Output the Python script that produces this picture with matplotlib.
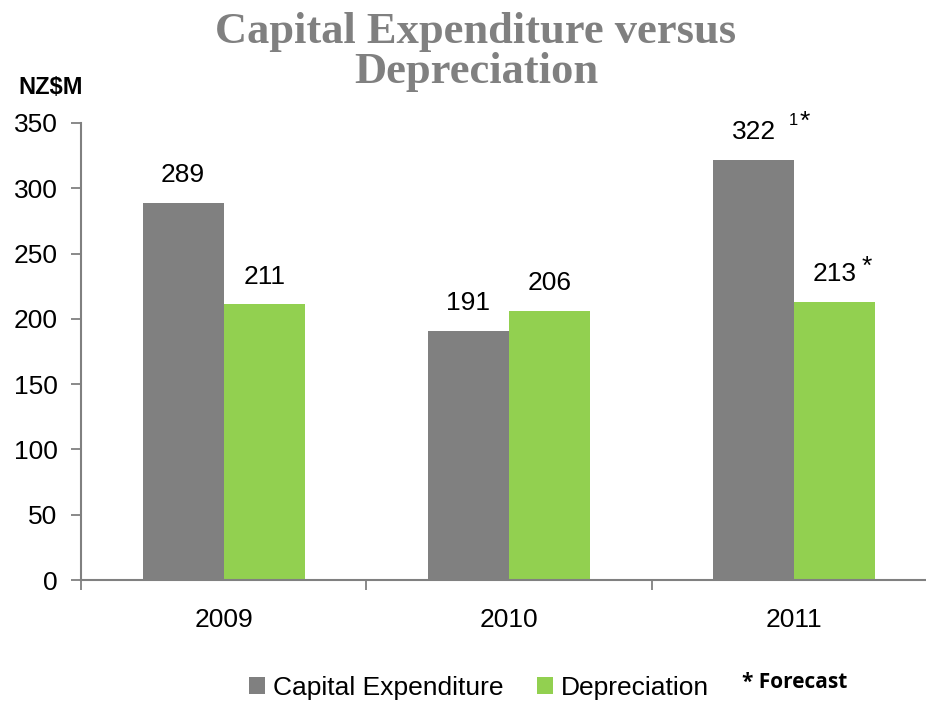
import matplotlib.pyplot as plt
import numpy as np

# data
years = ["2009", "2010", "2011"]
capex = [289, 191, 322]
depreciation = [211, 206, 213]
capex_labels = ["289", "191", "322"]
dep_labels = ["211", "206", "213"]
capex_sup = ["", "", "1"]      # footnote marker
capex_star = [False, False, True]
dep_star = [False, False, True]

grey = "#808080"
green = "#92D050"

plt.rcParams['font.family'] = ['Liberation Sans', 'DejaVu Sans']

fig = plt.figure(figsize=(9.26, 7.01), dpi=100)
ax = fig.add_axes([81/926, 121/701, 856/926, 457/701])

x = np.arange(len(years))
w = 0.284
ax.bar(x - w/2, capex, w, color=grey, label="Capital Expenditure", zorder=2)
ax.bar(x + w/2, depreciation, w, color=green, label="Depreciation", zorder=2)

for i in range(len(years)):
    ax.text(x[i] - w/2, capex[i] + 12, capex_labels[i], ha="center", va="bottom", fontsize=19)
    ax.text(x[i] + w/2, depreciation[i] + 12, dep_labels[i], ha="center", va="bottom", fontsize=19)
    if capex_sup[i]:
        ax.text(x[i] - w/2 + 0.123, capex[i] + 24, capex_sup[i], ha="left", va="bottom", fontsize=12)
    if capex_star[i]:
        ax.text(x[i] - w/2 + 0.162, capex[i] + 20, "*", ha="left", va="bottom", fontsize=19)
    if dep_star[i]:
        ax.text(x[i] + w/2 + 0.094, depreciation[i] + 18, "*", ha="left", va="bottom", fontsize=19)

ax.set_xlim(-0.5, 2.5)
ax.set_ylim(0, 350)
ax.set_yticks(range(0, 351, 50))
ax.tick_params(axis="y", labelsize=19, color=grey, length=7, width=1.3, pad=10)
ax.set_xticks(x)
ax.set_xticklabels(years)
ax.tick_params(axis="x", labelsize=19, length=0, pad=20)
ax.set_xticks([-0.5, 0.5, 1.5], minor=True)
ax.tick_params(axis="x", which="minor", length=7, width=1.3, color=grey)

for s in ["top", "right"]:
    ax.spines[s].set_visible(False)
for s in ["left", "bottom"]:
    ax.spines[s].set_color(grey)
    ax.spines[s].set_linewidth(1.5)

fig.text(476/926, 1 - 12/701, "Capital Expenditure versus\nDepreciation", ha="center", va="top",
         fontsize=32, fontweight="bold", color=grey, family="Liberation Serif", linespacing=1.0)
fig.text(18/926, 1 - 87/701, "NZ$M", ha="left", va="center", fontsize=17, fontweight="bold")

leg = fig.legend(loc="center", bbox_to_anchor=(479/926, 1 - 688/701), ncol=2, frameon=False,
                 fontsize=19, handlelength=0.6, handleheight=0.6, handletextpad=0.3, columnspacing=1.3)
fig.text(742/926, 1 - 683/701, "* Forecast", ha="left", va="center", fontsize=15,
         fontweight="bold", family="Open Sans")

fig.savefig("out.png", dpi=100)
